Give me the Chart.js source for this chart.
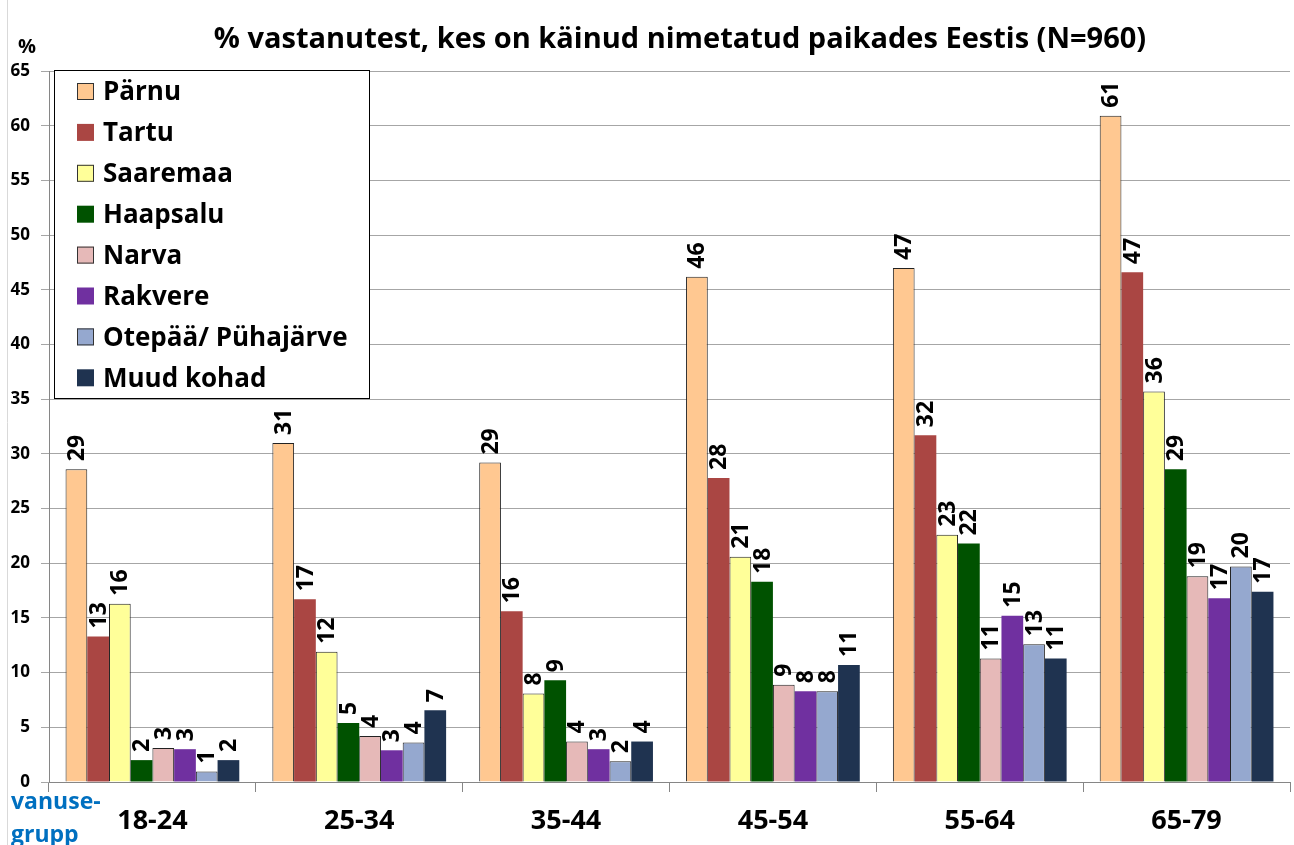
<!DOCTYPE html>
<html>
<head>
<meta charset="utf-8">
<script src="https://cdn.jsdelivr.net/npm/chart.js@4"></script>
<style>
  html, body { margin: 0; padding: 0; background: #fff; }
  #wrap { width: 1294px; height: 845px; position: relative; }
</style>
</head>
<body>
<div id="wrap"><canvas id="chart" width="1294" height="845"></canvas></div>
<script>
const TITLE = '% vastanutest, kes on käinud nimetatud paikades Eestis (N=960)';
const FONT = '"Open Sans", Lato, sans-serif';

// vanusegrupid
const categories = ['18-24', '25-34', '35-44', '45-54', '55-64', '65-79'];

// % vastanutest, loetud pildilt
const parnu    = [28.6, 31.0, 29.2, 46.2, 47.0, 60.9];
const tartu    = [13.3, 16.7, 15.6, 27.8, 31.7, 46.6];
const saaremaa = [16.3, 11.9, 8.1, 20.6, 22.6, 35.7];
const haapsalu = [2.0, 5.4, 9.3, 18.3, 21.8, 28.6];
const narva    = [3.1, 4.2, 3.7, 8.9, 11.3, 18.8];
const rakvere  = [3.0, 2.9, 3.0, 8.3, 15.2, 16.8];
const otepaa   = [0.95, 3.6, 1.9, 8.3, 12.6, 19.7];
const muud     = [2.0, 6.55, 3.7, 10.7, 11.3, 17.4];

const Y_MIN = 0, Y_MAX = 65, Y_STEP = 5;

const series = [
    { label: 'Pärnu', data: parnu, color: '#FFC891', border: true },
    { label: 'Tartu', data: tartu, color: '#AA4643', border: false },
    { label: 'Saaremaa', data: saaremaa, color: '#FFFF99', border: true },
    { label: 'Haapsalu', data: haapsalu, color: '#005200', border: false },
    { label: 'Narva', data: narva, color: '#E6B9B8', border: true },
    { label: 'Rakvere', data: rakvere, color: '#7030A0', border: false },
    { label: 'Otepää/ Pühajärve', data: otepaa, color: '#95A8CF', border: true },
    { label: 'Muud kohad', data: muud, color: '#1F3350', border: false }
];

/* Väärtused tulpade kohale, pööratud */
const valueLabels = {
    id: 'valueLabels',
    afterDatasetsDraw(chart) {
        const ctx = chart.ctx;
        ctx.save();
        ctx.fillStyle = '#000';
        ctx.font = 'bold 23px ' + FONT;
        ctx.textAlign = 'left';
        ctx.textBaseline = 'middle';
        chart.data.datasets.forEach((ds, i) => {
            chart.getDatasetMeta(i).data.forEach((bar, j) => {
                ctx.save();
                ctx.translate(bar.x + 1, bar.y - 8);
                ctx.rotate(-Math.PI / 2);
                ctx.fillText(String(Math.round(ds.data[j])), 0, 0);
                ctx.restore();
            });
        });
        ctx.restore();
    }
};

/* Legend graafiku sees, pealkiri ja lisatekstid */
const extras = {
    id: 'extras',
    afterDraw(chart) {
        const ctx = chart.ctx;
        const area = chart.chartArea;
        ctx.save();

        // vasak äär
        ctx.strokeStyle = '#D9D9D9';
        ctx.lineWidth = 1;
        ctx.beginPath();
        ctx.moveTo(7.5, 0);
        ctx.lineTo(7.5, 845);
        ctx.stroke();

        // pealkiri
        ctx.fillStyle = '#000';
        ctx.font = 'bold 29px ' + FONT;
        ctx.textAlign = 'center';
        ctx.textBaseline = 'middle';
        ctx.fillText(TITLE, 680, 40);

        // % telje kohal
        ctx.font = 'bold 20px ' + FONT;
        ctx.textAlign = 'left';
        ctx.fillText('%', 18, 47);

        // vanusegrupp
        ctx.fillStyle = '#0070C0';
        ctx.font = 'bold 23px ' + FONT;
        ctx.textBaseline = 'alphabetic';
        ctx.fillText('vanuse-', 11, 809);
        ctx.fillText('grupp', 11, 842);

        // legend
        const lx = area.left + 5, ly = area.top - 1, lw = 315, lh = 328;
        ctx.fillStyle = '#fff';
        ctx.fillRect(lx, ly, lw, lh);
        ctx.strokeStyle = '#000';
        ctx.strokeRect(lx + 0.5, ly + 0.5, lw, lh);
        ctx.font = 'bold 26px ' + FONT;
        ctx.textBaseline = 'middle';
        chart.data.datasets.forEach((ds, i) => {
            const cy = ly + 21 + i * 40.9;
            ctx.fillStyle = ds.backgroundColor;
            ctx.fillRect(lx + 23, cy - 8, 17, 17);
            if (ds.borderWidth) {
                ctx.strokeStyle = '#333';
                ctx.strokeRect(lx + 23.5, cy - 7.5, 16, 16);
            }
            ctx.fillStyle = '#000';
            ctx.fillText(ds.label, lx + 49, cy + 2);
        });
        ctx.restore();
    }
};

const dataChart = new Chart(
    document.getElementById('chart'),
    {
    type: 'bar',
    data: {
        labels: categories,
        datasets: series.map(s => ({
            label: s.label,
            data: s.data,
            backgroundColor: s.color,
            borderColor: '#222',
            borderWidth: s.border ? 1 : 0,
            categoryPercentage: 0.84,
            barPercentage: 1.0
        }))
    },
    options: {
        responsive: false,
        animation: false,
        layout: {
            padding: { top: 71, right: 4, bottom: 0, left: 0 }
        },
        plugins: {
            legend: { display: false },
            title: { display: false },
            tooltip: { enabled: false }
        },
        scales: {
            x: {
                grid: {
                    offset: true,
                    drawOnChartArea: false,
                    drawTicks: true,
                    tickLength: 10,
                    color: '#868686'
                },
                border: { color: '#868686' },
                ticks: {
                    color: '#000',
                    font: { family: FONT, size: 27, weight: 'bold' },
                    padding: 13
                },
                afterFit(scale) { scale.height = 63; }
            },
            y: {
                min: Y_MIN,
                max: Y_MAX,
                grid: {
                    color: '#A6A6A6',
                    tickLength: 8
                },
                border: { color: '#868686' },
                ticks: {
                    stepSize: Y_STEP,
                    color: '#000',
                    padding: 11,
                    font: { family: FONT, size: 17, weight: 'bold' }
                },
                afterFit(scale) { scale.width = 49; }
            }
        }
    },
    plugins: [valueLabels, extras]
    }
);
</script>
</body>
</html>
